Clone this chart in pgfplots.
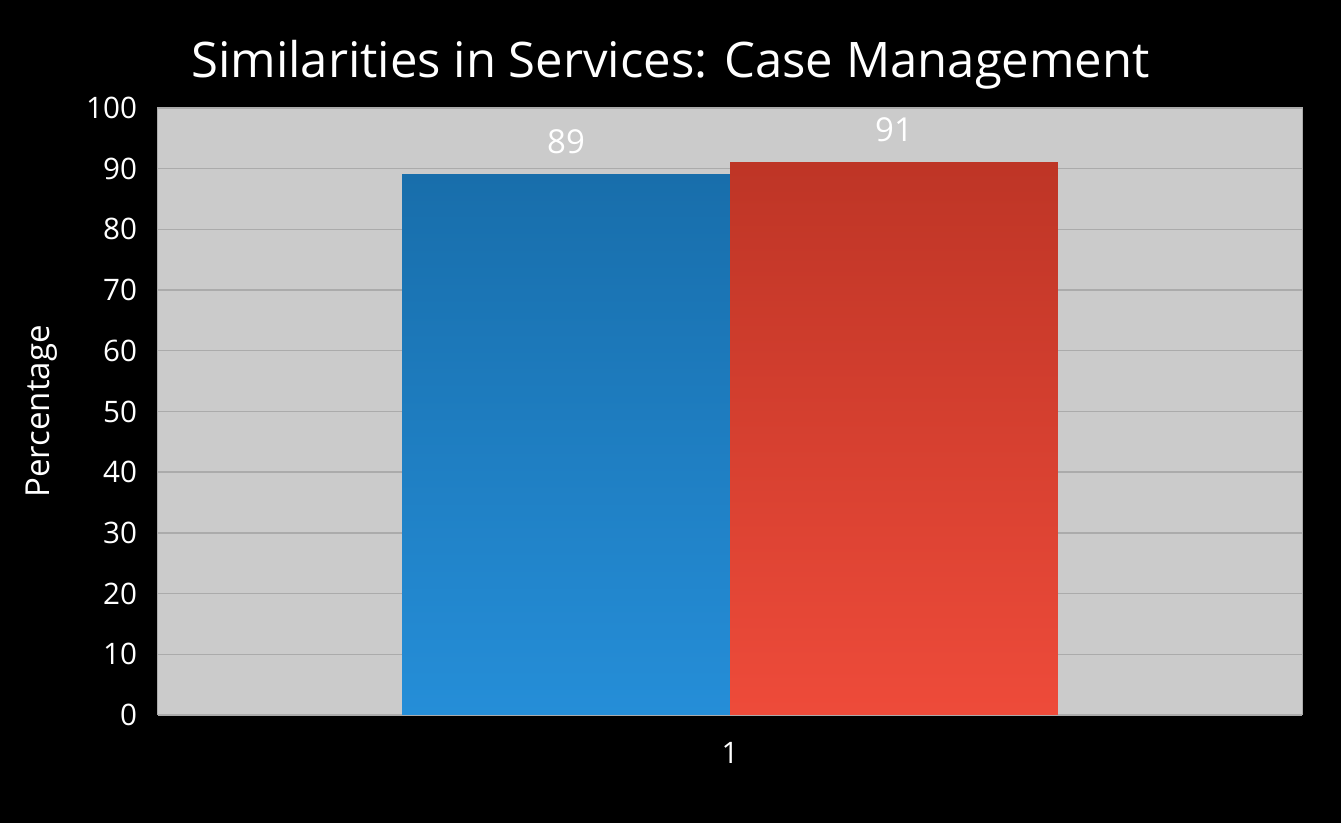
\documentclass[border=0pt]{standalone}
\usepackage{fontspec}
\setmainfont{Open Sans}
\usepackage{pgfplots}
\pgfplotsset{compat=1.18}
\definecolor{plotgray}{HTML}{CBCBCB}
\definecolor{gridgray}{HTML}{ABABAB}
\definecolor{bluetop}{HTML}{186EAB}
\definecolor{bluebot}{HTML}{258ED8}
\definecolor{redtop}{HTML}{BE3526}
\definecolor{redbot}{HTML}{EE4B3A}
\begin{document}
\begin{tikzpicture}
\fill[black] (0,0) rectangle (670.5pt,411.5pt);
\node[anchor=base, text=white, font=\fontsize{24.5}{28}\selectfont] at (335.25pt,372.5pt) {Similarities in Services: Case Management};
\begin{axis}[
  at={(79pt,54pt)}, anchor=south west,
  scale only axis, width=572pt, height=303.5pt,
  xmin=0.5, xmax=1.5, ymin=0, ymax=100,
  xtick={1}, ytick distance=10,
  major tick length=0pt,
  axis background/.style={fill=plotgray},
  axis line style={draw=gridgray, line width=0.5pt},
  ymajorgrids, grid style={draw=gridgray, line width=0.7pt},
  tick label style={text=white, font=\fontsize{14.8}{17}\selectfont},
  /pgf/number format/assume math mode=true,
  yticklabel style={xshift=-7pt},
  xticklabel style={yshift=-10pt},
  ylabel={Percentage},
  ylabel style={at={(axis description cs:-0.1014,0.5)}, rotate=0, anchor=center, text=white, font=\fontsize{16.5}{19}\selectfont},
  nodes near coords,
  nodes near coords style={text=white, font=\fontsize{16.5}{18}\selectfont, yshift=7pt},
  ybar, bar width=0.2867,
]
\addplot[ybar, bar shift=-0.14335, draw=none, top color=bluetop, bottom color=bluebot] coordinates {(1,89)};
\addplot[ybar, bar shift=0.14335, draw=none, top color=redtop, bottom color=redbot] coordinates {(1,91)};
\end{axis}
\end{tikzpicture}
\end{document}
